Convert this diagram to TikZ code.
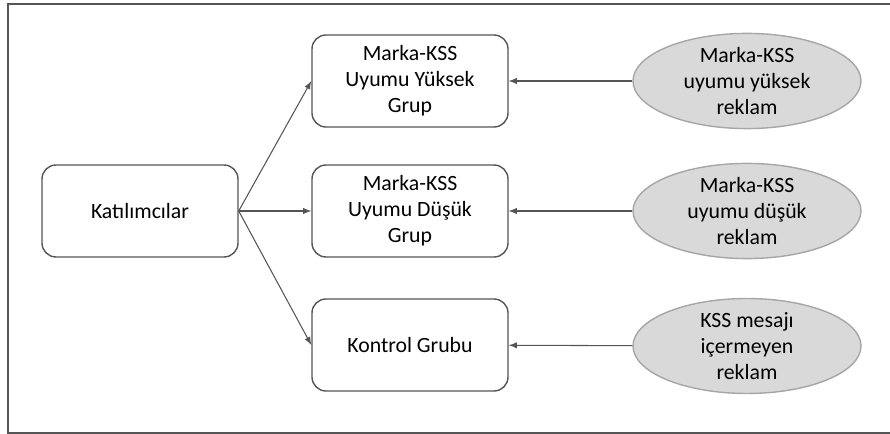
\documentclass[tikz,border=0pt]{standalone}
\usepackage{fontspec}
\setmainfont{Carlito}
\usepackage{tikz}
\usetikzlibrary{arrows,positioning,shapes.geometric}
\definecolor{linegray}{HTML}{555555}
\definecolor{ellfill}{HTML}{D9D9D9}
\definecolor{ellline}{HTML}{A6A6A6}
\tikzset{grpbox/.style={rectangle,rounded corners=2.8mm,draw=linegray,thick,align=center,
  minimum width=3.92cm,minimum height=1.84cm,inner sep=0pt}}
\tikzset{adnode/.style={ellipse,draw=ellline,fill=ellfill,thick,align=center,
  minimum width=4.56cm,minimum height=1.8cm,inner sep=0pt}}

\begin{document}
\begin{tikzpicture}[x=0.2mm,y=-0.2mm,font=\fontsize{12.4}{14.8}\selectfont,>=latex]
\useasboundingbox (0,0) rectangle (890,434);
% \draw[help lines] (0,0) grid (890,434);
\draw[linegray,line width=0.6pt] (892,4) -- (8,4) -- (8,433) -- (892,433);
%
\node (kat) [grpbox] at (140,211) {Katılımcılar};
\node (yuk) [grpbox] at (410,81) {Marka-KSS\\Uyumu Yüksek\\Grup};
\node (dus) [grpbox] at (410,211) {Marka-KSS\\Uyumu Düşük\\Grup};
\node (kon) [grpbox] at (410,345) {Kontrol Grubu};
%
\node (ryuk) [adnode] at (747,81) {Marka-KSS\\uyumu yüksek\\reklam};
\node (rdus) [adnode] at (747,211) {Marka-KSS\\uyumu düşük\\reklam};
\node (rkon) [adnode] at (747,346) {KSS mesajı\\içermeyen\\reklam};
%
\path[->,linegray,line width=0.6pt](kat.east) edge (yuk.west);
\path[->,linegray,line width=0.6pt](kat.east) edge (dus.west);
\path[->,linegray,line width=0.6pt](kat.east) edge (kon.west);
%
\path[->,linegray,line width=0.6pt](ryuk) edge (yuk);
\path[->,linegray,line width=0.6pt](rdus) edge (dus);
\path[->,linegray,line width=0.6pt](rkon) edge (kon);
\end{tikzpicture}
\end{document}
